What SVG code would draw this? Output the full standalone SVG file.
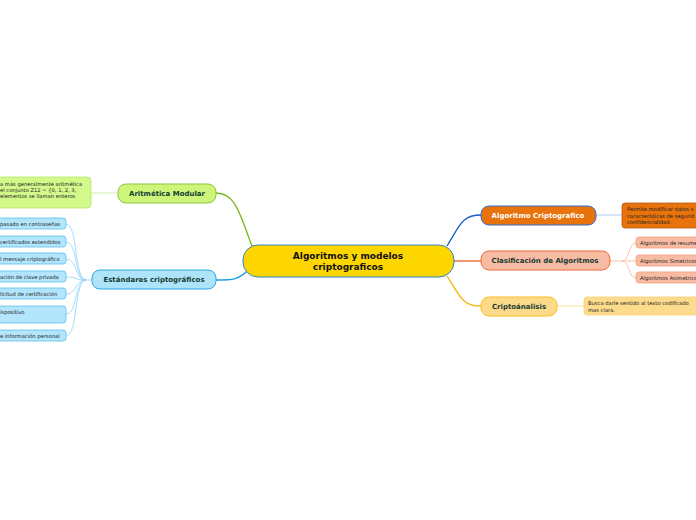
<svg xmlns="http://www.w3.org/2000/svg" width="696" height="520" viewBox="0 0 696 520">
<style>
text{font-family:"DejaVu Sans","Liberation Sans",sans-serif;}
.b{font-weight:bold;}
.t1{font-size:7px;fill:#153a33;font-weight:bold;text-anchor:middle;}
.lf{font-size:5.2px;fill:#222;}
.c{fill:none;}
</style>
<rect width="696" height="520" fill="#ffffff"/>
<g id="connectors">
<path class="c" d="M252,246 C240,215 236,193 216,193" stroke="#7cb518" stroke-width="1.3"/>
<path class="c" d="M91,193 L118,193" stroke="#d3ecb0" stroke-width="1"/>
<path class="c" d="M250,268 C240,280 232,280 216,280" stroke="#1ea0e0" stroke-width="1.3"/>
<g stroke="#8fd3f4" stroke-width="0.8" fill="none">
<path d="M86,280 C74,280 78,224 66,224"/>
<path d="M86,280 C74,280 78,242 66,242"/>
<path d="M86,280 C74,280 78,259 66,259"/>
<path d="M86,280 C74,280 78,277 66,277"/>
<path d="M86,280 C74,280 78,294 66,294"/>
<path d="M86,280 C74,280 78,314 66,314"/>
<path d="M86,280 C74,280 78,336 66,336"/>
<path d="M86,280 L92,280"/>
</g>
<path class="c" d="M447,246 C460,225 462,215 481,215" stroke="#1a5fc8" stroke-width="1.3"/>
<path class="c" d="M596,215 L622,215" stroke="#a9c9f0" stroke-width="1"/>
<path class="c" d="M454,261 L481,261" stroke="#f05a28" stroke-width="1.3"/>
<g stroke="#f8b49a" stroke-width="0.8" fill="none">
<path d="M610,261 L622,261"/>
<path d="M622,261 C630,261 628,243 636,243"/>
<path d="M622,261 L636,261"/>
<path d="M622,261 C630,261 628,278 636,278"/>
</g>
<path class="c" d="M447,276 C460,296 462,306 481,306" stroke="#f5b400" stroke-width="1.3"/>
<path class="c" d="M557,306 L584,306" stroke="#fde39a" stroke-width="1"/>
</g>
<g id="central">
<rect x="243" y="245" width="211" height="32" rx="15" fill="#fdd600" stroke="#2e87c8" stroke-width="1"/>
<text x="348" y="259" class="b" font-size="9" text-anchor="middle" fill="#111">Algoritmos y modelos</text>
<text x="348" y="270" class="b" font-size="9" text-anchor="middle" fill="#111">criptograficos</text>
</g>
<g id="aritmetica">
<rect x="118" y="184" width="98" height="19" rx="8" fill="#ccf57a" stroke="#8cc63f" stroke-width="1"/>
<text x="167" y="196" class="t1">Aritmética Modular</text>
</g>
<g id="aritmetica-note">
<rect x="-6" y="177" width="97" height="31" rx="4" fill="#d3f98a" stroke="#b8e86a" stroke-width="0.8"/>
<text x="0" y="185.5" class="lf">a más generalmente aritmética</text>
<text x="0" y="191.5" class="lf">el conjunto Z12 = {0, 1, 2, 3,</text>
<text x="0" y="197.5" class="lf">elementos se llaman enteros</text>
</g>
<g id="estandares">
<rect x="92" y="270" width="124" height="19" rx="8" fill="#aee4fa" stroke="#29a8e0" stroke-width="1"/>
<text x="154" y="282" class="t1">Estándares criptográficos</text>
</g>
<g id="e1"><rect x="-6" y="218" width="72" height="11" rx="3" fill="#b3e5fc" stroke="#5bc0eb" stroke-width="0.8"/><text x="0" y="225.8" class="lf">pasado en contraseñas</text></g>
<g id="e2"><rect x="-6" y="236" width="72" height="11" rx="3" fill="#b3e5fc" stroke="#5bc0eb" stroke-width="0.8"/><text x="0" y="243.8" class="lf">certificados extendidos</text></g>
<g id="e3"><rect x="-6" y="253" width="72" height="11" rx="3" fill="#b3e5fc" stroke="#5bc0eb" stroke-width="0.8"/><text x="0" y="260.8" class="lf">l mensaje criptográfico</text></g>
<g id="e4"><rect x="-6" y="271" width="72" height="11" rx="3" fill="#b3e5fc" stroke="#5bc0eb" stroke-width="0.8"/><text x="0" y="278.8" class="lf">ación de clave privada</text></g>
<g id="e5"><rect x="-6" y="288" width="72" height="11" rx="3" fill="#b3e5fc" stroke="#5bc0eb" stroke-width="0.8"/><text x="0" y="295.8" class="lf">licitud de certificación</text></g>
<g id="e6"><rect x="-6" y="306" width="72" height="17" rx="3" fill="#b3e5fc" stroke="#5bc0eb" stroke-width="0.8"/><text x="0" y="313.8" class="lf">ispositivo</text></g>
<g id="e7"><rect x="-6" y="330" width="72" height="11" rx="3" fill="#b3e5fc" stroke="#5bc0eb" stroke-width="0.8"/><text x="0" y="337.8" class="lf">e información personal</text></g>
<g id="algoritmo">
<rect x="481" y="206" width="115" height="19" rx="8" fill="#e8720c" stroke="#2e6fd0" stroke-width="1"/>
<text x="538" y="218" class="t1" fill="#ffffff" style="fill:#ffffff">Algoritmo Criptografico</text>
</g>
<g id="algoritmo-note">
<rect x="622" y="203" width="80" height="25" rx="3" fill="#e8720c" stroke="#b05a14" stroke-width="0.8"/>
<text x="627" y="211" class="lf">Permite modificar datos o</text>
<text x="627" y="217.5" class="lf">características de segurid</text>
<text x="627" y="224" class="lf">confidencialidad.</text>
</g>
<g id="clasificacion">
<rect x="481" y="251" width="129" height="19" rx="8" fill="#f8bba3" stroke="#f06a3c" stroke-width="1"/>
<text x="545" y="263" class="t1">Clasificación de Algoritmos</text>
</g>
<g id="c1"><rect x="636" y="237" width="66" height="11" rx="3" fill="#f8bba3" stroke="#f3a080" stroke-width="0.8"/><text x="640" y="244.8" class="lf">Algoritmos de resumen</text></g>
<g id="c2"><rect x="636" y="255" width="66" height="11" rx="3" fill="#f8bba3" stroke="#f3a080" stroke-width="0.8"/><text x="640" y="262.8" class="lf">Algoritmos Simetricos</text></g>
<g id="c3"><rect x="636" y="272" width="66" height="11" rx="3" fill="#f8bba3" stroke="#f3a080" stroke-width="0.8"/><text x="640" y="279.8" class="lf">Algoritmos Asimetricos</text></g>
<g id="criptoanalisis">
<rect x="481" y="297" width="76" height="19" rx="8" fill="#fdd98a" stroke="#fbbf24" stroke-width="1"/>
<text x="519" y="309" class="t1">Criptoánalisis</text>
</g>
<g id="criptoanalisis-note">
<rect x="584" y="297" width="118" height="18" rx="3" fill="#fddb8c" stroke="#f8d078" stroke-width="0.8"/>
<text x="588" y="304.5" class="lf">Busca darle sentido al texto codificado</text>
<text x="588" y="311.5" class="lf">mas clara.</text>
</g>
</svg>
